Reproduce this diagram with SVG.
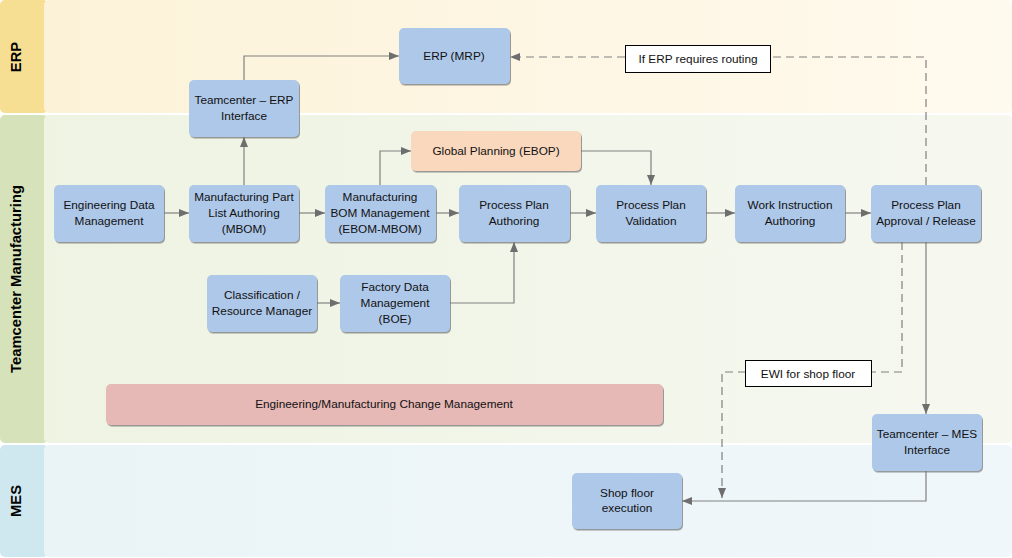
<svg xmlns="http://www.w3.org/2000/svg" width="1012" height="558" viewBox="0 0 1012 558">
<defs>
<linearGradient id="gErp" x1="0" y1="0" x2="1" y2="0"><stop offset="0" stop-color="#fcf2d8"/><stop offset="1" stop-color="#fffaee"/></linearGradient>
<linearGradient id="gTm" x1="0" y1="0" x2="1" y2="0"><stop offset="0" stop-color="#eef3e2"/><stop offset="1" stop-color="#f6f8f0"/></linearGradient>
<linearGradient id="gMes" x1="0" y1="0" x2="1" y2="0"><stop offset="0" stop-color="#eaf4f7"/><stop offset="1" stop-color="#f0f7fa"/></linearGradient>
<marker id="arr" viewBox="0 0 10 10" refX="10" refY="5" markerWidth="10" markerHeight="10" markerUnits="userSpaceOnUse" orient="auto"><path d="M0,1 L10,5 L0,9 z" fill="#6e6e6e"/></marker>
<filter id="sh" x="-5%" y="-5%" width="115%" height="120%"><feDropShadow dx="1" dy="1.5" stdDeviation="0.6" flood-color="#707070" flood-opacity="0.7"/></filter>
<style>
.lh{font-family:"Liberation Sans",Arial,sans-serif;font-size:14.8px;font-weight:bold;fill:#000;text-anchor:middle}
.n rect{fill:#aec8e9;filter:url(#sh)}
.t{font-family:"Liberation Sans",Arial,sans-serif;font-size:11.8px;fill:#111;text-anchor:middle}
.c{fill:none;stroke:#808080;stroke-width:1.2}
.d{fill:none;stroke:#808080;stroke-width:1.2;stroke-dasharray:8,5}
.lb{fill:#fff;stroke:#000;stroke-width:1}
</style>
</defs>
<g id="lanes">
<rect x="0" y="0" width="48" height="113" rx="5" fill="#f6de92"/>
<rect x="44" y="0" width="968" height="113" rx="5" fill="url(#gErp)"/>
<rect x="0" y="115" width="48" height="328" rx="5" fill="#d6e2b9"/>
<rect x="44" y="115" width="968" height="328" rx="5" fill="url(#gTm)"/>
<rect x="0" y="445" width="48" height="112" rx="5" fill="#cfe7ef"/>
<rect x="44" y="445" width="968" height="112" rx="5" fill="url(#gMes)"/>
<text class="lh" transform="translate(21,57) rotate(-90)">ERP</text>
<text class="lh" transform="translate(21,279) rotate(-90)">Teamcenter Manufacturing</text>
<text class="lh" transform="translate(21,501) rotate(-90)">MES</text>
</g>
<g id="connectors">
<path class="c" d="M244,80 V56 H399" marker-end="url(#arr)"/>
<path class="c" d="M244,185 V137" marker-end="url(#arr)"/>
<path class="d" d="M926,185 V57 H510" marker-end="url(#arr)"/>
<path class="c" d="M164,213 H189" marker-end="url(#arr)"/>
<path class="c" d="M299,213 H325" marker-end="url(#arr)"/>
<path class="c" d="M436,213 H459" marker-end="url(#arr)"/>
<path class="c" d="M380,185 V151 H411" marker-end="url(#arr)"/>
<path class="c" d="M581,151 H651 V185" marker-end="url(#arr)"/>
<path class="c" d="M570,213 H596" marker-end="url(#arr)"/>
<path class="c" d="M706,213 H735" marker-end="url(#arr)"/>
<path class="c" d="M845,213 H871" marker-end="url(#arr)"/>
<path class="c" d="M317,303 H340" marker-end="url(#arr)"/>
<path class="c" d="M450,303 H514 V242" marker-end="url(#arr)"/>
<path class="c" d="M926,242 V414" marker-end="url(#arr)"/>
<path class="d" d="M902,242 V372 H722 V498" marker-end="url(#arr)"/>
<path class="c" d="M926,471 V501 H682" marker-end="url(#arr)"/>
</g>
<g id="label-erp-routing">
<rect class="lb" x="625.5" y="45.5" width="145" height="27"/>
<text class="t" x="698" y="63">If ERP requires routing</text>
</g>
<g id="label-ewi">
<rect class="lb" x="745.5" y="360.5" width="126" height="26"/>
<text class="t" x="808" y="378">EWI for shop floor</text>
</g>
<g id="n-erp-if" class="n"><rect x="189" y="80" width="110" height="57" rx="5"/><text class="t" x="244" y="104">Teamcenter – ERP</text><text class="t" x="244" y="120">Interface</text></g>
<g id="n-erp-mrp" class="n"><rect x="399" y="28" width="111" height="56" rx="5"/><text class="t" x="454" y="60">ERP (MRP)</text></g>
<g id="n-gp" class="n"><rect x="411" y="131" width="170" height="40" rx="5" style="fill:#f9d8be"/><text class="t" x="496" y="155">Global Planning (EBOP)</text></g>
<g id="n-edm" class="n"><rect x="54" y="185" width="110" height="57" rx="5"/><text class="t" x="109" y="209">Engineering Data</text><text class="t" x="109" y="225">Management</text></g>
<g id="n-mbom" class="n"><rect x="189" y="185" width="110" height="57" rx="5"/><text class="t" x="244" y="201">Manufacturing Part</text><text class="t" x="244" y="217">List Authoring</text><text class="t" x="244" y="233">(MBOM)</text></g>
<g id="n-bom" class="n"><rect x="325" y="185" width="111" height="57" rx="5"/><text class="t" x="380" y="201">Manufacturing</text><text class="t" x="380" y="217">BOM Management</text><text class="t" x="380" y="233">(EBOM-MBOM)</text></g>
<g id="n-ppa" class="n"><rect x="459" y="185" width="111" height="57" rx="5"/><text class="t" x="514" y="209">Process Plan</text><text class="t" x="514" y="225">Authoring</text></g>
<g id="n-ppv" class="n"><rect x="596" y="185" width="110" height="57" rx="5"/><text class="t" x="651" y="209">Process Plan</text><text class="t" x="651" y="225">Validation</text></g>
<g id="n-wia" class="n"><rect x="735" y="185" width="110" height="57" rx="5"/><text class="t" x="790" y="209">Work Instruction</text><text class="t" x="790" y="225">Authoring</text></g>
<g id="n-ppar" class="n"><rect x="871" y="185" width="110" height="57" rx="5"/><text class="t" x="926" y="209">Process Plan</text><text class="t" x="926" y="225">Approval / Release</text></g>
<g id="n-class" class="n"><rect x="207" y="275" width="110" height="57" rx="5"/><text class="t" x="262" y="299">Classification /</text><text class="t" x="262" y="315">Resource Manager</text></g>
<g id="n-fdm" class="n"><rect x="340" y="275" width="110" height="57" rx="5"/><text class="t" x="395" y="291">Factory Data</text><text class="t" x="395" y="307">Management</text><text class="t" x="395" y="323">(BOE)</text></g>
<g id="n-cm" class="n"><rect x="106" y="384" width="557" height="41" rx="5" style="fill:#e6b8b6"/><text class="t" x="384" y="408">Engineering/Manufacturing Change Management</text></g>
<g id="n-mes-if" class="n"><rect x="872" y="414" width="110" height="57" rx="5"/><text class="t" x="927" y="438">Teamcenter – MES</text><text class="t" x="927" y="454">Interface</text></g>
<g id="n-sfe" class="n"><rect x="572" y="473" width="110" height="56" rx="5"/><text class="t" x="627" y="497">Shop floor</text><text class="t" x="627" y="512">execution</text></g>
</svg>
